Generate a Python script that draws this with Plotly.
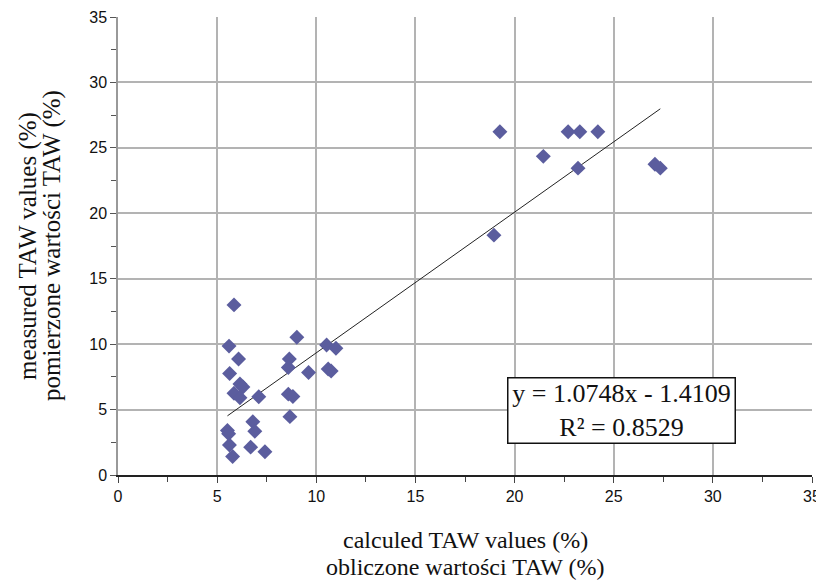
import plotly.graph_objects as go

calc_taw = [5.85, 5.60, 9.02, 10.52, 10.99, 6.08, 8.64, 8.59, 5.63, 9.61,
            10.60, 10.75, 6.15, 6.30, 5.85, 6.15, 7.10, 8.59, 8.82, 8.67,
            6.80, 6.90, 5.52, 5.58, 5.62, 6.69, 7.41, 5.78,
            19.26, 22.70, 23.29, 24.20, 21.45, 23.20, 27.08, 27.35, 18.96]
meas_taw = [13.0, 9.85, 10.52, 9.93, 9.68, 8.86, 8.86, 8.22, 7.75, 7.84,
            8.10, 7.95, 6.95, 6.72, 6.24, 5.90, 5.98, 6.18, 6.00, 4.46,
            4.07, 3.35, 3.40, 3.15, 2.29, 2.13, 1.78, 1.42,
            26.23, 26.23, 26.23, 26.23, 24.35, 23.45, 23.75, 23.45, 18.33]

slope = 1.0748
intercept = -1.4109
r2 = 0.8529

x_ticks = [0, 5, 10, 15, 20, 25, 30, 35]
y_ticks = [0, 5, 10, 15, 20, 25, 30, 35]

x_title_lines = ["calculed TAW values (%)", "obliczone wartości TAW (%)"]
y_title_lines = ["measured TAW values (%)", "pomierzone wartości TAW (%)"]

x_line = [min(calc_taw), max(calc_taw)]
y_line = [slope * v + intercept for v in x_line]

fig = go.Figure()
fig.add_trace(go.Scatter(
    x=x_line, y=y_line, mode="lines",
    line=dict(color="#222222", width=1), showlegend=False, hoverinfo="skip"))
fig.add_trace(go.Scatter(
    x=calc_taw, y=meas_taw, mode="markers",
    marker=dict(symbol="diamond", size=11.5, color="#5B5D9E", line=dict(width=0)),
    showlegend=False))

grid_col = "#b3b3b3"
tick_font = dict(family="Liberation Sans, Arial", size=16, color="#111111")

fig.update_xaxes(
    range=[0, 35], tickvals=x_ticks, ticktext=[str(v) for v in x_ticks],
    showgrid=True, gridcolor=grid_col, gridwidth=2,
    showline=True, linecolor="#222222", linewidth=1.5,
    ticks="outside", ticklen=6, tickcolor="#444444", tickwidth=1,
    minor=dict(dtick=2.5, tick0=0, ticks="outside", ticklen=5, tickcolor="#444444", showgrid=False),
    tickfont=tick_font, zeroline=False, fixedrange=True, automargin=False)
fig.update_yaxes(
    range=[0, 35], tickvals=y_ticks, ticktext=[str(v) for v in y_ticks],
    showgrid=True, gridcolor=grid_col, gridwidth=2,
    showline=True, linecolor="#999999", linewidth=1.5,
    ticks="outside", ticklen=6, tickcolor="#555555", tickwidth=1,
    minor=dict(dtick=2.5, tick0=0, ticks="outside", ticklen=5, tickcolor="#555555", showgrid=False),
    tickfont=tick_font, zeroline=False, fixedrange=True, automargin=False)

# The page body adds an 8 px offset; figure is sized so the plot area lands at
# window px x 118..812, y 17..475.
OFF = 8
W, H = 824 - OFF, 581 - OFF
L, T = 118 - OFF, 17 - OFF
R = W - (812 - OFF)
B = H - (475 - OFF)

serif = "Liberation Serif, Times New Roman, serif"
ann = []
for txt, ypx in zip(x_title_lines, [540, 567]):
    ann.append(dict(text=txt, xref="paper", yref="paper", x=0.5, y=-(ypx - 475) / 458,
                    xanchor="center", yanchor="middle", showarrow=False,
                    font=dict(family=serif, size=24, color="#111111")))
for txt, xpx in zip(y_title_lines, [28, 52]):
    ann.append(dict(text=txt, xref="paper", yref="paper", x=(xpx - 118) / 694, y=0.5,
                    xanchor="center", yanchor="middle", showarrow=False, textangle=-90,
                    font=dict(family=serif, size=25, color="#111111")))
ann.append(dict(text=f"y = {slope}x - {abs(intercept)}<br>R² = {r2}",
                xref="x", yref="y", x=25.39, y=4.93,
                xanchor="center", yanchor="middle", showarrow=False,
                width=224, height=62, align="center",
                bordercolor="#111111", borderwidth=1.5, bgcolor="white",
                font=dict(family=serif, size=26, color="#111111")))

fig.update_layout(
    width=W, height=H,
    margin=dict(l=L, r=R, t=T, b=B, autoexpand=False),
    plot_bgcolor="white", paper_bgcolor="white",
    annotations=ann,
)

fig.write_html("out.html")
